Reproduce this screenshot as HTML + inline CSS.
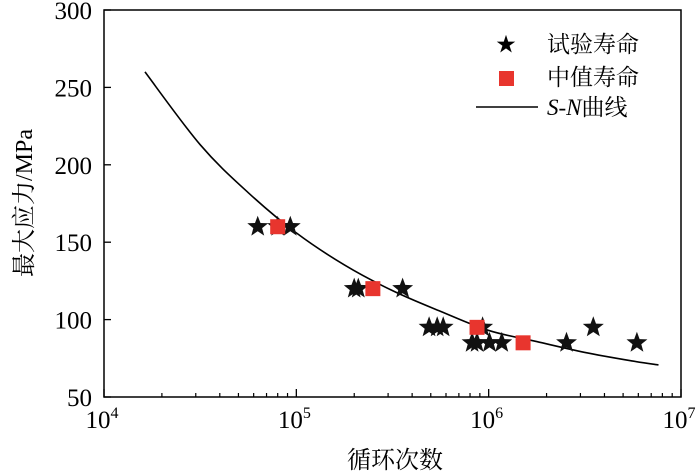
<!DOCTYPE html>
<html><head><meta charset="utf-8"><style>
body{margin:0;background:#fff}
svg{display:block;font-family:"Liberation Serif","Noto Serif CJK SC",serif}
</style></head><body>
<svg id="chart" width="700" height="474" viewBox="0 0 700 474">
<g id="axes"></g>
<g id="curve"></g>
<g id="marks"></g>
<g id="legend">
 <text x="506" y="51" font-size="20" text-anchor="middle">★</text>
 <text x="547" y="52" font-size="23">试验寿命</text>
 <rect x="499" y="71" width="15" height="15" fill="#e8352e"/>
 <text x="547" y="85" font-size="23">中值寿命</text>
 <line x1="476" y1="107" x2="538" y2="107" stroke="#000" stroke-width="1.5"/>
 <text x="547" y="115" font-size="23"><tspan font-style="italic">S</tspan>-<tspan font-style="italic">N</tspan>曲线</text>
</g>
<text x="395" y="468" font-size="24" text-anchor="middle">循环次数</text>
<text transform="translate(32,203) rotate(-90)" font-size="24" text-anchor="middle">最大应力/MPa</text>
</svg>
<script>
const yTicks=[50,100,150,200,250,300];
const xDecades=[4,5,6,7];
const testN=[63000,80000,93000,200000,210000,357000,490000,540000,580000,930000,3500000,820000,870000,1010000,1170000,2540000,5900000];
const testS=[160,160,160,120,120,120,95,95,95,95,95,85,85,85,85,85,85];
const medianN=[80000,250000,870000,1510000];
const medianS=[160,120,95,85];
const curveLogN=[4.213,4.5,4.75,5,5.25,5.5,5.75,6,6.25,6.5,6.75,6.883];
const curveS=[260,213,182,156,135.3,118.7,105.3,93,85.8,78.8,73.2,70.7];
const L=104,R=681,T=10,B=397;
const xs=lg=>L+(lg-4)/3*(R-L);
const xN=n=>xs(Math.log10(n));
const ys=s=>B-(s-50)/250*(B-T);
const NS="http://www.w3.org/2000/svg";
function mk(p,tag,at){const e=document.createElementNS(NS,tag);for(const k in at)e.setAttribute(k,at[k]);p.appendChild(e);return e;}
const ax=document.getElementById('axes');
const fr=mk(ax,'rect',{x:L,y:T,width:R-L,height:B-T,fill:'none',stroke:'#000','stroke-width':1.5});


yTicks.forEach(v=>{
 const t=mk(ax,'line',{x1:L,x2:L+7,y1:ys(v),y2:ys(v),stroke:'#000','stroke-width':1.3});
 
 
 const l=mk(ax,'text',{x:L-12,y:ys(v)+9,'font-size':25,'text-anchor':'end'});
 l.textContent=v;
 
 
});
xDecades.forEach((d,i)=>{
 const t=mk(ax,'line',{x1:xs(d),x2:xs(d),y1:B,y2:B-8,stroke:'#000','stroke-width':1.3});
 
 
 const l=mk(ax,'text',{x:xs(d)-2,y:B+31,'font-size':25,'text-anchor':'middle'});
 l.innerHTML='10<tspan dy="-10" font-size="16">'+d+'</tspan>';
 
 
 if(i<xDecades.length-1)for(let m=2;m<=9;m++){
  const x=xs(d+Math.log10(m));
  const mt=mk(ax,'line',{x1:x,x2:x,y1:B,y2:B-4,stroke:'#000','stroke-width':1.2});
  
  
 }
});
const pts=curveLogN.map((u,i)=>[xs(u),ys(curveS[i])]);
let d='M'+pts[0][0]+','+pts[0][1];
for(let i=0;i<pts.length-1;i++){
 const p0=pts[Math.max(0,i-1)],p1=pts[i],p2=pts[i+1],p3=pts[Math.min(pts.length-1,i+2)];
 const c1=[p1[0]+(p2[0]-p0[0])/6,p1[1]+(p2[1]-p0[1])/6];
 const c2=[p2[0]-(p3[0]-p1[0])/6,p2[1]-(p3[1]-p1[1])/6];
 d+=' C'+c1+' '+c2+' '+p2;
}
const cp=mk(document.getElementById('curve'),'path',{d:d,fill:'none',stroke:'#000','stroke-width':1.6});


const mg=document.getElementById('marks');
function star(cx,cy,r){const a=[];for(let k=0;k<10;k++){const rr=k%2?r*0.42:r;const th=-Math.PI/2+k*Math.PI/5;a.push((cx+rr*Math.cos(th)).toFixed(1)+','+(cy+rr*Math.sin(th)).toFixed(1));}return a.join(' ');}
testN.forEach((n,i)=>{
 const s=mk(mg,'polygon',{points:star(xN(n),ys(testS[i]),11),fill:'#111'});
 
 
});
medianN.forEach((n,i)=>{
 const r=mk(mg,'rect',{x:xN(n)-7.5,y:ys(medianS[i])-7.5,width:15,height:15,fill:'#e8352e'});
 
 
});
</script>
</body></html>
